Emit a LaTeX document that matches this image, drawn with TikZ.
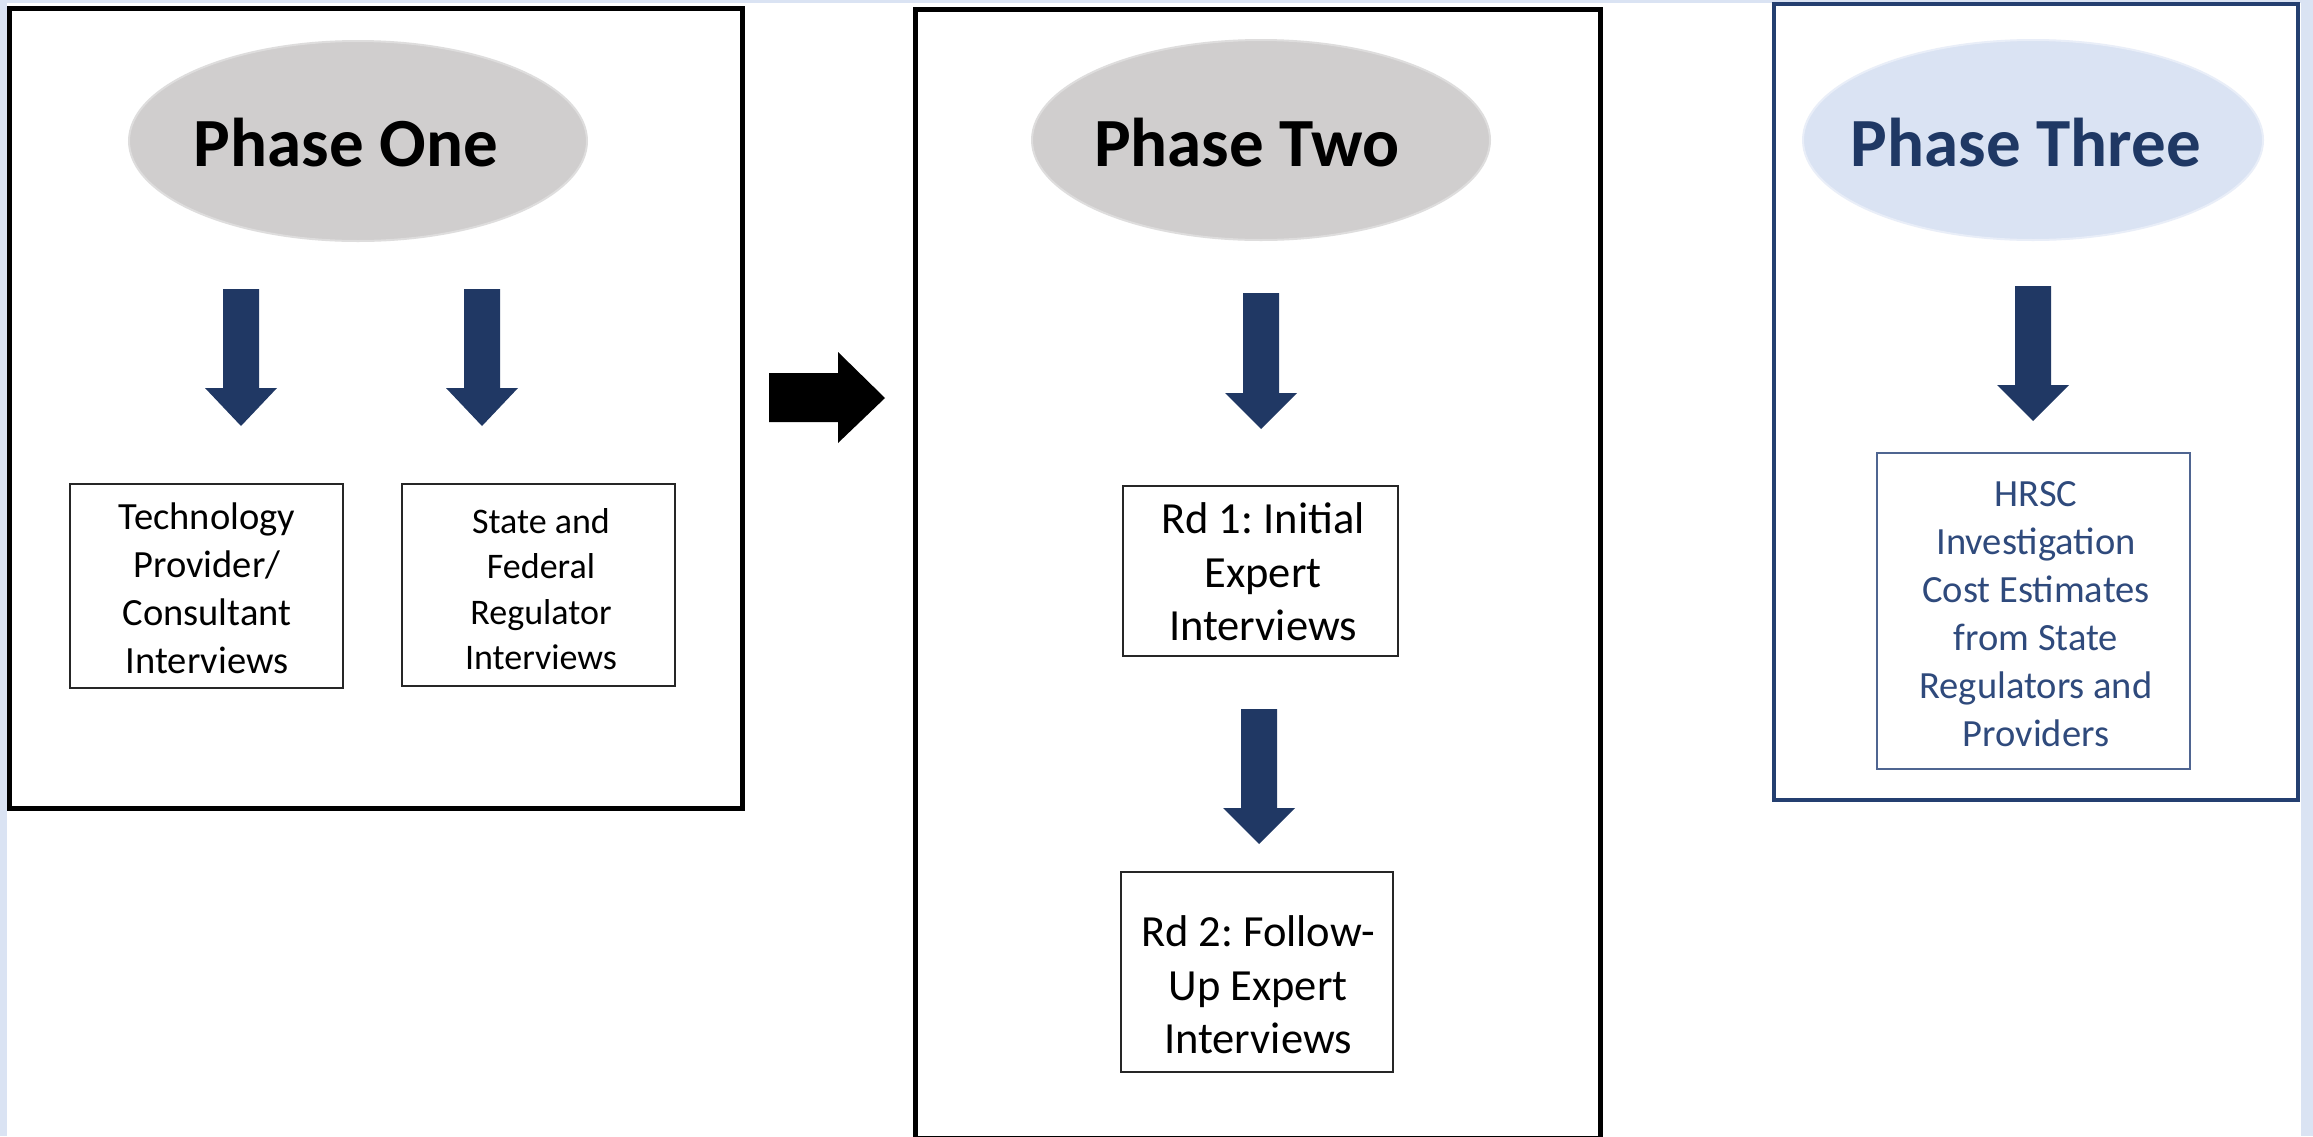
\documentclass[tikz,border=0pt]{standalone}
\usepackage{fontspec}
\setmainfont{Carlito}
\frenchspacing
\usetikzlibrary{shapes.geometric}
\definecolor{pagebg}{HTML}{DAE3F3}
\definecolor{navy}{HTML}{203864}
\definecolor{ellgray}{HTML}{D0CECE}
\definecolor{ellblue}{HTML}{DAE3F3}
\definecolor{titlenavy}{HTML}{1F3864}
\definecolor{boxnavy}{HTML}{2F4A7C}
\definecolor{innerblue}{HTML}{4F6591}
\definecolor{framenavy}{HTML}{243F70}
\tikzset{
  phaseframe/.style={draw=black, line width=5pt},
  phaseell/.style={ellipse, fill=ellgray, draw=ellgray!70!white, line width=2pt,
    minimum width=458pt, minimum height=200pt, inner sep=0pt},
  phasetitle/.style={font=\fontsize{69}{80}\selectfont\bfseries, inner sep=0pt},
  txtbox/.style={draw=black!85, line width=2pt, inner sep=0pt},
  boxtext/.style={align=center, inner sep=0pt, font=\fontsize{38.5}{48}\selectfont},
  bluearrow/.style={fill=navy},
}
\newcommand\dnarrow[4]{%
  \fill[bluearrow] (#1-18,#2) -- (#1+18,#2) -- (#1+18,#3) -- (#1+36,#3) -- (#1,#4)
    -- (#1-36,#3) -- (#1-18,#3) -- cycle;}
\begin{document}
\begin{tikzpicture}[x=1pt,y=-1pt]
\useasboundingbox (0,0) rectangle (2313,1136);
\fill[white] (0,0) rectangle (2313,1136);
\fill[pagebg] (0,0) rectangle (7,1136);
\fill[pagebg] (0,0) rectangle (2313,3);
\fill[pagebg] (2301,0) rectangle (2313,1136);

% ---------- Phase One ----------
\draw[phaseframe] (9,8) rectangle (742,808);
\node[phaseell] (p1) at (358,141) {};
\node[phasetitle] (p1t) at (346,143) {Phase One};
\dnarrow{241}{289}{388}{426}
\dnarrow{482}{289}{388}{426}
\node[txtbox, minimum width=273pt, minimum height=204pt] (b1) at (206.5,586) {};
\node[boxtext] (b1t) at (207,588) {Technology\\Provider/\\Consultant\\Interviews};
\node[txtbox, minimum width=273pt, minimum height=202pt] (b2) at (538.5,585) {};
\node[boxtext, font=\fontsize{36}{45.5}\selectfont] (b2t) at (541,589) {State and\\Federal\\Regulator\\Interviews};

% ---------- connector arrow ----------
\coordinate (ca) at (769,373);
\fill[black] (ca) -- (838,373) -- (838,352) -- (885,398) -- (838,443) -- (838,422) -- (769,422) -- cycle;

% ---------- Phase Two ----------
\draw[phaseframe] (915,9) rectangle (1600,1138);
\node[phaseell] (p2) at (1261,140) {};
\node[phasetitle] (p2t) at (1247,143) {Phase Two};
\dnarrow{1261}{293}{393}{429}
\node[txtbox, minimum width=275pt, minimum height=170pt] (r1) at (1260.5,571) {};
\node[boxtext, font=\fontsize{44.5}{53.5}\selectfont] (r1t) at (1263,572) {Rd 1: Initial\\Expert\\Interviews};
\dnarrow{1259}{709}{808}{844}
\node[txtbox, minimum width=272pt, minimum height=200pt] (r2) at (1257,972) {};
\node[boxtext, font=\fontsize{44.5}{53.5}\selectfont] (r2t) at (1258,985) {Rd 2: Follow-\\Up Expert\\Interviews};

% ---------- Phase Three ----------
\draw[draw=framenavy, line width=4.5pt] (1774,4) rectangle (2298,800);
\node[phaseell, fill=ellblue, draw=ellblue!60!white, minimum width=460pt] (p3) at (2033,140) {};
\node[phasetitle, text=titlenavy] (p3t) at (2026,143) {Phase Three};
\dnarrow{2033}{286}{385}{421}
\node[txtbox, draw=innerblue, minimum width=313pt, minimum height=316pt] (h1) at (2033.5,611) {};
\node[boxtext, text=boxnavy] (h1t) at (2036,614) {HRSC\\Investigation\\Cost Estimates\\from State\\Regulators and\\Providers};
\end{tikzpicture}
\end{document}
